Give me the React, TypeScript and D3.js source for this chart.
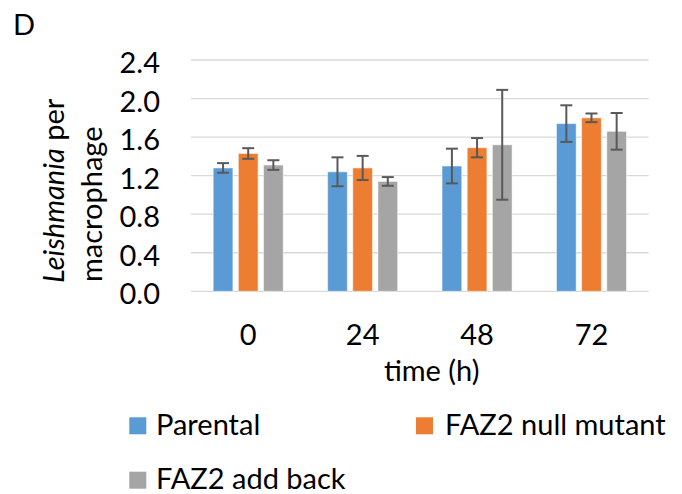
import React from "react";
import * as d3 from "d3";

// Time points (h) and series
const categories = ["0", "24", "48", "72"];
const seriesNames = ["Parental", "FAZ2 null mutant", "FAZ2 add back"];
const parental = [1.28, 1.24, 1.30, 1.74];
const parentalErr = [0.05, 0.15, 0.18, 0.19];
const nullMutant = [1.43, 1.28, 1.49, 1.80];
const nullMutantErr = [0.055, 0.125, 0.10, 0.045];
const addBack = [1.31, 1.14, 1.52, 1.66];
const addBackErr = [0.05, 0.045, 0.57, 0.19];
const yTicks = [0, 0.4, 0.8, 1.2, 1.6, 2.0, 2.4];

const colors = ["#5B9BD5", "#ED7D31", "#A5A5A5"];
const FONT = "Lato, 'Open Sans', sans-serif";
const FS = 29;

export default function App() {
  const W = 682;
  const H = 494;
  const x0 = d3
    .scaleBand<string>()
    .domain(categories)
    .range([191, 648.7])
    .paddingInner(0.388)
    .paddingOuter(0.194);
  const x1 = d3
    .scaleBand<string>()
    .domain(seriesNames)
    .range([0, x0.bandwidth()])
    .paddingInner(0.217)
    .paddingOuter(0);
  const y = d3.scaleLinear().domain([0, 2.4]).range([291.3, 60]);

  const values = [parental, nullMutant, addBack];
  const errs = [parentalErr, nullMutantErr, addBackErr];

  const capW = 12;

  return (
    <svg
      width={W}
      height={H}
      style={{ position: "absolute", left: 0, top: 0, background: "#fff" }}
      fontFamily={FONT}
    >
      <rect width={W} height={H} fill="#fff" />
      <text x={13} y={35} fontSize={FS} fill="#000">
        D
      </text>

      {/* gridlines */}
      {yTicks.map((t) => (
        <line
          key={"g" + t}
          x1={191}
          x2={648.7}
          y1={y(t)}
          y2={y(t)}
          stroke="#D9D9D9"
          strokeWidth={1.3}
        />
      ))}

      {/* y tick labels */}
      {yTicks.map((t) => (
        <text
          key={"yt" + t}
          x={160}
          y={y(t) + 1.5}
          textAnchor="end"
          dominantBaseline="central"
          fontSize={FS}
          fill="#000"
        >
          {d3.format(".1f")(t)}
        </text>
      ))}

      {/* bars */}
      {categories.map((c, ci) =>
        seriesNames.map((s, si) => {
          const v = values[si][ci];
          const bx = (x0(c) ?? 0) + (x1(s) ?? 0);
          return (
            <rect
              key={c + s}
              x={bx}
              y={y(v)}
              width={x1.bandwidth()}
              height={y(0) - y(v)}
              fill={colors[si]}
              stroke="#fff"
              strokeOpacity={0.5}
              strokeWidth={1}
            />
          );
        })
      )}

      {/* error bars */}
      {categories.map((c, ci) =>
        seriesNames.map((s, si) => {
          const v = values[si][ci];
          const e = errs[si][ci];
          const cx = (x0(c) ?? 0) + (x1(s) ?? 0) + x1.bandwidth() / 2;
          const yTop = y(v + e);
          const yBot = y(v - e);
          return (
            <g key={"e" + c + s} stroke="#595959" strokeWidth={2}>
              <line x1={cx} x2={cx} y1={yTop} y2={yBot} />
              <line x1={cx - capW / 2} x2={cx + capW / 2} y1={yTop} y2={yTop} />
              <line x1={cx - capW / 2} x2={cx + capW / 2} y1={yBot} y2={yBot} />
            </g>
          );
        })
      )}

      {/* x tick labels */}
      {categories.map((c) => (
        <text
          key={"xt" + c}
          x={(x0(c) ?? 0) + x0.bandwidth() / 2}
          y={345}
          textAnchor="middle"
          fontSize={FS}
          fill="#000"
        >
          {c}
        </text>
      ))}

      <text x={431.7} y={381} textAnchor="middle" fontSize={FS} fill="#000">
        time (h)
      </text>

      {/* y axis title */}
      <text
        transform="translate(64,283) rotate(-90)"
        textAnchor="start"
        fontSize={FS}
        fill="#000"
      >
        <tspan fontStyle="italic">Leishmania</tspan> per
      </text>
      <text
        transform="translate(102,282) rotate(-90)"
        textAnchor="start"
        fontSize={FS}
        fill="#000"
      >
        macrophage
      </text>

      {/* legend */}
      {seriesNames.map((s, i) => {
        const lx = i === 1 ? 416 : 129.3;
        const ly = i === 2 ? 471.7 : 417.3;
        return (
          <g key={"l" + s}>
            <rect x={lx} y={ly} width={17} height={17} fill={colors[i]} />
            <text
              x={i === 1 ? 445 : 156}
              y={ly + 17.5}
              fontSize={FS}
              fill="#000"
            >
              {s}
            </text>
          </g>
        );
      })}
    </svg>
  );
}
